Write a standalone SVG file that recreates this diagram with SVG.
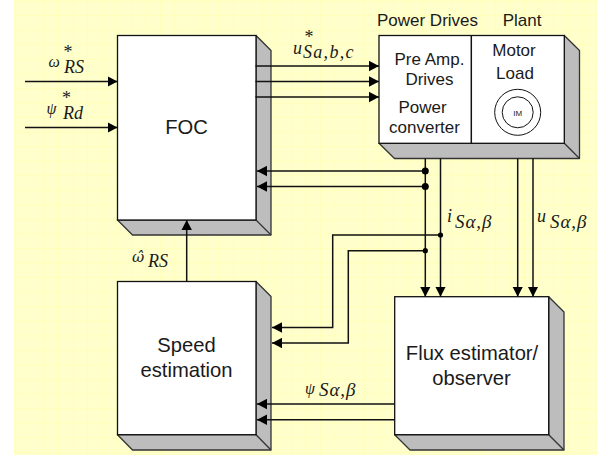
<svg xmlns="http://www.w3.org/2000/svg" width="599" height="455" viewBox="0 0 599 455">
<defs>
<pattern id="grid" x="14.4" y="0.5" width="14.56" height="14.56" patternUnits="userSpaceOnUse"><path d="M0 14.56V0H14.56" fill="none" stroke="#ffffa8" stroke-width="1"/></pattern>
<marker id="arrow" markerUnits="userSpaceOnUse" markerWidth="11" markerHeight="11" refX="10" refY="5.5" orient="auto"><path d="M0 0.3L10 5.5L0 10.7Z" fill="#000"/></marker>
</defs>
<style>
.front{fill:#fff;stroke:#111;stroke-width:1.3}
.side{fill:#bdbdbd;stroke:#333;stroke-width:1.3;stroke-linejoin:round}
.line{fill:none;stroke:#111;stroke-width:1.5}
.arr{marker-end:url(#arrow)}
text{font-family:"Liberation Sans",Arial,sans-serif;fill:#1a1a1a}
.c{text-anchor:middle}
.big{font-size:20.2px}
.mid{font-size:17px}
.m{font-family:"Liberation Serif","Times New Roman",serif;font-style:italic;font-size:18px}
.s{letter-spacing:1.3px}
.sg{font-size:19px;letter-spacing:.9px}
.star{font-family:"Liberation Serif","Times New Roman",serif;font-size:18px;text-anchor:middle}
.g{font-family:"Liberation Serif","Times New Roman",serif;font-style:italic;font-size:16px}
.h{font-family:"DejaVu Serif",serif;font-style:italic;font-size:15px}
</style>
<rect width="599" height="455" fill="#fff"/>
<rect x="14" y="0" width="583" height="455" fill="#ffffcc"/>
<rect x="14" y="0" width="583" height="455" fill="url(#grid)"/>
<g id="foc">
<path class="side" d="M117.5 220H256V35.5L271 50.5V235H132.5Z"/><path class="side" d="M256 220L271 235" fill="none"/>
<rect class="front" x="117.5" y="35.5" width="138.5" height="184.5"/>
<text class="big c" x="186.5" y="134">FOC</text>
</g>
<g id="speed">
<path class="side" d="M117.5 434.7H256V281.5L271 296.5V450H132.5Z"/><path class="side" d="M256 434.7L271 450" fill="none"/>
<rect class="front" x="117.5" y="281.5" width="138.5" height="153.2"/>
<text class="big c" x="186.5" y="352">Speed</text>
<text class="big c" x="186.5" y="377">estimation</text>
</g>
<g id="power">
<path class="side" d="M379 143.3H564.3V35.5L579.5 50.5V158.5H394.5Z"/><path class="side" d="M564.3 143.3L579.5 158.5" fill="none"/>
<rect class="front" x="379" y="35.5" width="185.3" height="107.8"/>
<path class="line" d="M471.3 35.5V143.3"/>
<text class="mid c" x="427.5" y="26">Power Drives</text>
<text class="mid c" x="522" y="26">Plant</text>
<text class="mid c" x="429.5" y="65">Pre Amp.</text>
<text class="mid c" x="429.5" y="85">Drives</text>
<text class="mid c" x="422.5" y="113">Power</text>
<text class="mid c" x="424.5" y="133">converter</text>
<text class="mid c" x="514" y="56">Motor</text>
<text class="mid c" x="515" y="79">Load</text>
<circle cx="517.7" cy="112.3" r="23" fill="none" stroke="#111" stroke-width="1"/>
<circle cx="517.7" cy="112.3" r="15.5" fill="none" stroke="#111" stroke-width="1"/>
<text class="c" x="517.7" y="115.5" font-size="8">IM</text>
</g>
<g id="flux">
<path class="side" d="M394.7 434.7H548.7V296.7L564 312V450H410Z"/><path class="side" d="M548.7 434.7L564 450" fill="none"/>
<rect class="front" x="394.7" y="296.7" width="154" height="138"/>
<text class="big c" x="472" y="360">Flux estimator/</text>
<text class="big c" x="471.5" y="385">observer</text>
</g>
<g id="connectors">
<path class="line arr" d="M25 81.5H117.5"/>
<path class="line arr" d="M25 127.5H117.5"/>
<path class="line arr" d="M255.5 66H379"/>
<path class="line arr" d="M255.5 81.5H379"/>
<path class="line arr" d="M255.5 97H379"/>
<path class="line arr" d="M425.3 171H257"/>
<path class="line arr" d="M425.3 186.5H257"/>
<path class="line arr" d="M425.3 158.5V296.7"/>
<path class="line arr" d="M440.5 158.5V296.7"/>
<path class="line arr" d="M517.7 158.5V296.7"/>
<path class="line arr" d="M533 158.5V296.7"/>
<path class="line arr" d="M440.5 235H332.7V327.5H272"/>
<path class="line arr" d="M425.3 250.7H348.3V343H272"/>
<path class="line arr" d="M394.7 404H257"/>
<path class="line arr" d="M394.7 419.7H257"/>
<path class="line arr" d="M186.7 281.5V220"/>
<circle cx="425.3" cy="171" r="3.5"/>
<circle cx="425.3" cy="186.5" r="3.5"/>
<circle cx="440.5" cy="235" r="2.6"/>
<circle cx="425.3" cy="250.7" r="2.6"/>
</g>
<g id="labels">
<text class="star" x="68" y="58">*</text>
<text class="g" x="48.5" y="67">ω</text>
<text class="m" x="64" y="73">RS</text>
<text class="star" x="66.5" y="104">*</text>
<text class="g" x="46.5" y="114">ψ</text>
<text class="m" x="63" y="119">Rd</text>
<text class="star" x="309" y="43">*</text>
<text class="m" x="293" y="54">u</text>
<text class="m s" x="303" y="58">Sa,b,c</text>
<text class="h" x="132" y="262">ω̂</text>
<text class="m" x="148" y="267">RS</text>
<text class="m" x="447" y="222">i</text>
<text class="m sg" x="455" y="228">Sα,β</text>
<text class="m" x="537" y="222">u</text>
<text class="m sg" x="550" y="228">Sα,β</text>
<text class="g" x="305" y="394">ψ</text>
<text class="m sg" x="319" y="396">Sα,β</text>
</g>
</svg>
